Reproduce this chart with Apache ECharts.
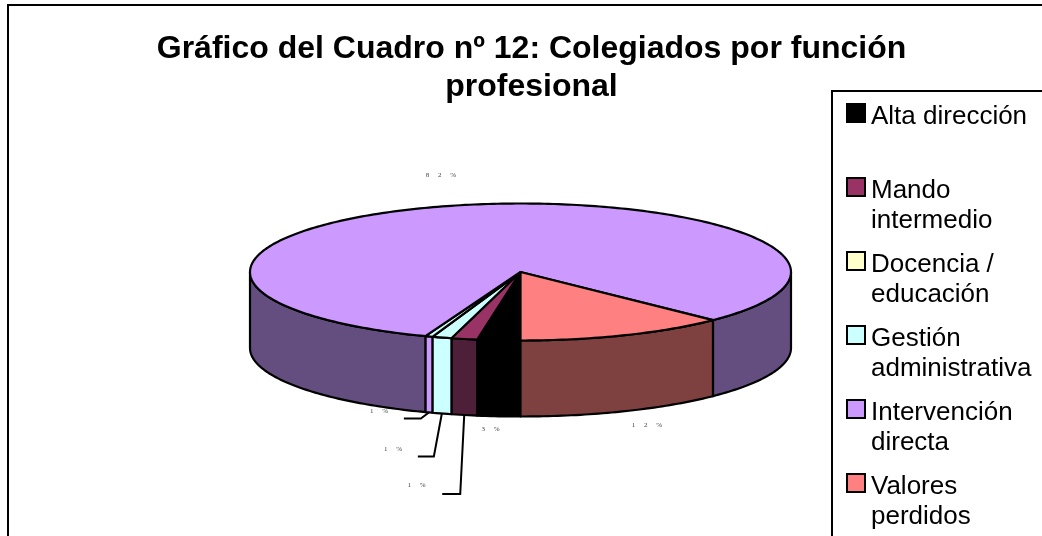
<!DOCTYPE html>
<html>
<head>
<meta charset="utf-8">
<style>
html,body{margin:0;padding:0;background:#fff;}
#main{width:1042px;height:536px;}
</style>
<script src="https://cdn.jsdelivr.net/npm/echarts@6/dist/echarts.min.js"></script>
</head>
<body>
<div id="main"></div>
<script>
// datos
var titleText = 'Gráfico del Cuadro nº 12: Colegiados por función\nprofesional';
var categories = ['Alta dirección\n ', 'Mando\nintermedio', 'Docencia /\neducación', 'Gestión\nadministrativa', 'Intervención\ndirecta', 'Valores\nperdidos'];
var values = [2.56, 1.55, 0.44, 1.17, 81.68, 12.6];
var percentLabels = [3, 1, 1, 1, 82, 12];
// orden de las porciones, en sentido horario desde las 6
var sliceOrder = [0, 1, 3, 2, 4, 5];
var legendColors = ['#000000', '#993366', '#FFFFCC', '#CCFFFF', '#CC99FF', '#FF8080'];
var topColors = ['#000000', '#993366', '#CCFFFF', '#CCFFFF', '#CC99FF', '#FF8080'];
var wallColors = ['#000000', '#4D1F38', '#CC99FF', '#CCFFFF', '#634E7F', '#7F4040'];

// geometria del pastel
var cx = 520.5, cy = 272, rx = 270.5, ry = 68.5, depth = 76;
var rad = Math.PI / 180;

// posicion de las etiquetas, y codo de las lineas guia
var labelPos = [[490.5, 429], [416.5, 485], [379, 411], [393, 449], [441, 175], [647, 425]];
var leaderElbows = {
    1: [[-4, 79], [-22, 79]],
    2: [[-8, 6], [-25, 6]],
    3: [[-8, 43], [-24, 43]]
};

function edgePoint(t, down){
    return [cx - rx * Math.sin(t * rad), cy + ry * Math.cos(t * rad) + (down ? depth : 0)];
}

function arcPoints(from, to, down){
    var pts = [];
    var n = Math.max(2, Math.ceil(Math.abs(to - from)));
    for(var i = 0; i <= n; i++){
        pts.push(edgePoint(from + (to - from) * i / n, down));
    }
    return pts;
}

// pared lateral: solo la parte frontal (0-90 y 270-360) se ve
function wallShape(from, to, color){
    var out = [];
    [[0, 90], [270, 360]].forEach(function(win){
        var a = Math.max(from, win[0]), b = Math.min(to, win[1]);
        if(b > a){
            out.push({
                type: 'polygon',
                shape: {points: arcPoints(a, b, false).concat(arcPoints(b, a, true))},
                style: {fill: color, stroke: '#000', lineWidth: 2.2, lineJoin: 'round'}
            });
        }
    });
    return out;
}

function renderSlice(idx){
    return function(params, api){
        var from = api.value(0), to = api.value(1);
        var children = wallShape(from, to, wallColors[idx]);
        children.push({
            type: 'polygon',
            shape: {points: [[cx, cy]].concat(arcPoints(from, to, false))},
            style: {fill: topColors[idx], stroke: '#000', lineWidth: 2.2, lineJoin: 'round'}
        });
        if(leaderElbows[idx]){
            var s = edgePoint((from + to) / 2, true);
            var elbows = leaderElbows[idx];
            children.push({
                type: 'polyline',
                shape: {points: [s, [s[0] + elbows[0][0], s[1] + elbows[0][1]], [s[0] + elbows[1][0], s[1] + elbows[1][1]]]},
                style: {fill: null, stroke: '#000', lineWidth: 2}
            });
        }
        children.push({
            type: 'text',
            x: labelPos[idx][0],
            y: labelPos[idx][1],
            style: {
                text: String(percentLabels[idx]).split('').join('     ') + '     %',
                fill: '#444',
                font: '7px "Liberation Serif"',
                align: 'center',
                verticalAlign: 'middle'
            }
        });
        return {type: 'group', children: children};
    };
}

var seriesArr = [];
var acum = 0;
for(var i = 0; i < sliceOrder.length; i++){
    var idx = sliceOrder[i];
    var ang = values[idx] * 3.6;
    seriesArr[seriesArr.length] = {
        name: categories[idx],
        type: 'custom',
        coordinateSystem: 'none',
        silent: true,
        animation: false,
        itemStyle: {color: legendColors[idx]},
        renderItem: renderSlice(idx),
        data: [[acum, acum + ang]]
    };
    acum += ang;
}

var option = {
    backgroundColor: '#fff',
    animation: false,
    title: {
        text: titleText,
        left: 526.5,
        top: 25,
        textAlign: 'center',
        textStyle: {
            fontFamily: '"Liberation Sans"',
            fontWeight: 'bold',
            fontSize: 32,
            lineHeight: 38,
            color: '#000'
        }
    },
    // marco exterior, se corta fuera de la imagen
    graphic: [{
        type: 'rect',
        silent: true,
        shape: {x: 8, y: 5, width: 1200, height: 800},
        style: {fill: null, stroke: '#000', lineWidth: 2}
    }],
    legend: {
        orient: 'vertical',
        left: 832,
        top: 91,
        height: 800,
        padding: [11, 60, 60, 14],
        itemGap: 14,
        itemWidth: 19,
        itemHeight: 56,
        selectedMode: false,
        // cuadrado arriba del item para alinearlo con la primera linea
        icon: 'path://M0 0H18V18H0Z M19 56L19 56',
        borderColor: '#000',
        borderWidth: 2,
        itemStyle: {borderColor: '#000', borderWidth: 2},
        textStyle: {
            fontFamily: '"Liberation Sans"',
            fontSize: 26,
            lineHeight: 30,
            color: '#000'
        },
        data: categories
    },
    series: seriesArr
};

var myChart = echarts.init(document.getElementById('main'));
myChart.setOption(option);
</script>
</body>
</html>
